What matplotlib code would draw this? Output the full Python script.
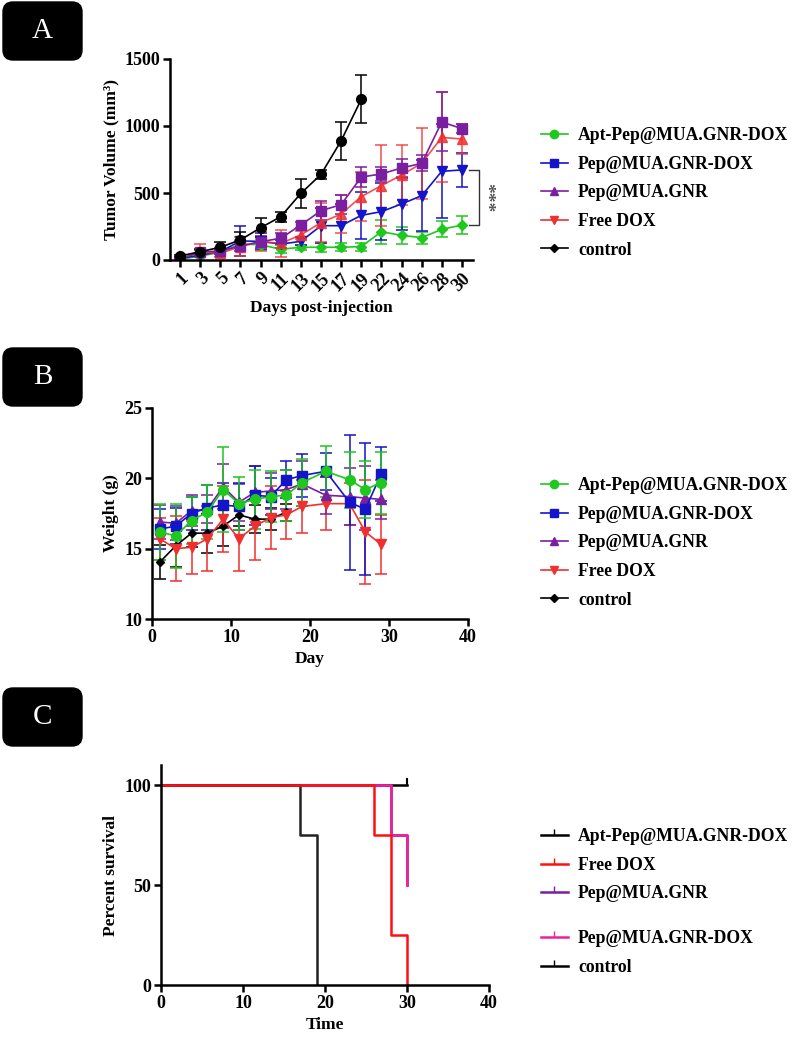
import numpy as np
import matplotlib
matplotlib.use("Agg")
import matplotlib.pyplot as plt
from matplotlib.lines import Line2D
from matplotlib.patches import FancyBboxPatch

plt.rcParams["font.family"] = "serif"
plt.rcParams["font.serif"] = ["Liberation Serif", "DejaVu Serif"]
plt.rcParams["font.weight"] = "bold"
plt.rcParams["axes.labelweight"] = "bold"

GREEN = "#1ec81e"
BLUE = "#1414c8"
PURPLE = "#7a1fa0"
RED = "#f03030"
PINK = "#f0209a"
BLACK = "#000000"

# ---- Panel A: tumor volume ----
days_a = ["1", "3", "5", "7", "9", "11", "13", "15", "17", "19", "22", "24", "26", "28", "30"]
vol_green = [5, 30, 57, 119, 114, 80, 95, 95, 95, 100, 211, 184, 167, 229, 261]
err_green = [5, 10, 15, 30, 40, 30, 20, 35, 30, 30, 90, 65, 45, 60, 65]
vol_blue = [10, 37, 62, 142, 139, 119, 139, 256, 256, 333, 361, 418, 480, 662, 672]
err_blue = [8, 15, 20, 115, 60, 30, 30, 130, 160, 175, 210, 195, 265, 350, 125]
vol_purple = [5, 60, 67, 105, 137, 162, 261, 368, 413, 619, 642, 687, 721, 1030, 980]
err_purple = [5, 15, 20, 40, 40, 40, 20, 72, 70, 73, 50, 64, 60, 220, 35]
vol_red = [12, 57, 50, 100, 137, 124, 187, 279, 343, 473, 555, 634, 721, 915, 903]
err_red = [8, 62, 25, 70, 70, 100, 30, 145, 140, 180, 300, 225, 265, 335, 112]
vol_black = [30, 62, 95, 150, 241, 323, 497, 639, 890, 1199]
err_black = [10, 20, 40, 60, 70, 37, 110, 33, 143, 178]

# ---- Panel B: body weight ----
days_b = [1, 3, 5, 7, 9, 11, 13, 15, 17, 19, 22, 25, 27, 29]
w_green = [16.2, 15.9, 17.0, 17.6, 19.2, 18.2, 18.5, 18.7, 18.8, 19.7, 20.5, 19.9, 19.2, 19.7]
e_green = [2.0, 2.3, 1.7, 1.9, 3.0, 1.9, 2.1, 1.8, 1.8, 1.7, 1.8, 2.0, 2.0, 2.2]
w_blue = [16.4, 16.6, 17.5, 17.9, 18.1, 18.0, 18.8, 18.7, 19.9, 20.2, 20.5, 18.3, 17.8, 20.3]
e_blue = [1.4, 1.3, 1.2, 1.6, 1.6, 1.7, 2.1, 1.3, 1.3, 1.5, 1.3, 4.8, 4.7, 1.9]
w_purple = [16.9, 16.8, 17.7, 17.8, 19.4, 18.3, 19.0, 19.1, 19.2, 19.6, 18.8, 18.7, 18.6, 18.5]
e_purple = [1.2, 1.2, 1.1, 1.0, 1.6, 1.3, 1.9, 1.3, 1.4, 1.6, 1.3, 2.0, 2.3, 1.4]
w_red = [15.7, 15.0, 15.1, 15.7, 17.1, 15.7, 16.6, 17.2, 17.4, 18.0, 18.2, 18.2, 16.2, 15.3]
e_red = [1.5, 2.3, 1.9, 2.3, 2.35, 2.3, 2.4, 2.25, 1.7, 1.9, 1.9, 1.5, 3.7, 2.1]
days_ctrl = [1, 3, 5, 7, 9, 11, 13, 15, 17]
w_black = [14.05, 15.2, 16.1, 16.1, 16.6, 17.4, 17.1, 17.1, 17.6]
e_black = [1.2, 1.5, 1.0, 1.4, 1.4, 0.8, 1.0, 0.8, 0.6]

# ---- Panel C: survival ----
t_apt, s_apt = [0, 30], [100, 100]
t_pep, s_pep = [0, 28, 30], [100, 75, 50]
t_pepdox, s_pepdox = [0, 28, 30], [100, 75, 50]
t_dox, s_dox = [0, 26, 28, 30], [100, 75, 25, 0]
t_ctrl, s_ctrl = [0, 17, 19], [100, 75, 0]

labels5 = ["Apt-Pep@MUA.GNR-DOX", "Pep@MUA.GNR-DOX", "Pep@MUA.GNR", "Free DOX", "control"]

W, H = 796, 1039
TICK = 13
LAB = 12.5
LEG = 12.7
fig = plt.figure(figsize=(W / 100, H / 100), dpi=100)


def px_axes(l, r, t, b):
    return fig.add_axes([l / W, 1 - b / H, (r - l) / W, (b - t) / H])


def style(ax):
    for s in ["top", "right"]:
        ax.spines[s].set_visible(False)
    for s in ["left", "bottom"]:
        ax.spines[s].set_linewidth(1.8)
    ax.tick_params(width=1.8, length=5, labelsize=TICK, pad=2)


def panel_box(letter, top_px):
    x0, w = 0.03, 0.79
    h = 0.58
    y0 = (H - top_px) / 100 - h
    pad = 0.1
    box = FancyBboxPatch((x0 + pad, y0 + pad), w - 2 * pad, h - 2 * pad,
                         boxstyle=f"round,pad={pad}", transform=fig.dpi_scale_trans,
                         facecolor="black", edgecolor="black")
    fig.patches.append(box)
    fig.text((x0 + w / 2) * 100 / W, (y0 + h / 2) * 100 / H, letter, color="white",
             fontsize=21, fontweight="normal", ha="center", va="center")


def legend(handles, labels, top_px):
    fig.legend(handles, labels, loc="upper left", bbox_to_anchor=(534 / W, 1 - top_px / H),
               frameon=False, prop={"size": LEG, "weight": "bold"}, handlelength=1.5,
               handletextpad=0.6, labelspacing=0.66, borderaxespad=0)


# Panel A
axA = px_axes(170, 473, 59, 260)
xa = np.arange(len(days_a))
eb = dict(capsize=4, elinewidth=1.1, capthick=1.1, lw=1.2, markersize=7)
axA.errorbar(xa, vol_green, yerr=err_green, color=GREEN, marker="D", markersize=5,
             capsize=4, elinewidth=1.1, capthick=1.1, lw=1.2)
axA.errorbar(xa, vol_blue, yerr=err_blue, color=BLUE, marker="v", **eb)
axA.errorbar(xa, vol_red, yerr=err_red, color=RED, marker="^", alpha=0.85, **eb)
axA.errorbar(xa, vol_purple, yerr=err_purple, color=PURPLE, marker="s", **eb)
axA.errorbar(xa[:len(vol_black)], vol_black, yerr=err_black, color=BLACK, marker="o", **eb)
axA.set_xlim(-0.5, 14.55)
axA.set_ylim(0, 1500)
axA.set_yticks([0, 500, 1000, 1500])
axA.set_xticks(xa)
axA.set_xticklabels(days_a, rotation=45, ha="right", rotation_mode="anchor")
axA.set_xlabel("Days post-injection", fontsize=LAB)
axA.set_ylabel("Tumor Volume (mm³)", fontsize=LAB)
style(axA)
axA.plot([14.36, 14.83, 14.83, 14.36], [vol_blue[-1], vol_blue[-1], vol_green[-1], vol_green[-1]],
         color="#333333", lw=1, clip_on=False)
axA.text(15.2, (vol_blue[-1] + vol_green[-1]) / 2, "***", rotation=270, color="#555555",
         fontsize=14, ha="center", va="center", clip_on=False)
hA = [Line2D([], [], color=GREEN, marker="o", markersize=6, lw=1.2),
      Line2D([], [], color=BLUE, marker="s", markersize=6, lw=1.2),
      Line2D([], [], color=PURPLE, marker="^", markersize=6, lw=1.2),
      Line2D([], [], color=RED, marker="v", markersize=6, lw=1.2),
      Line2D([], [], color=BLACK, marker="D", markersize=4, lw=1.2)]
legend(hA, labels5, 120)
panel_box("A", 2)

# Panel B
axB = px_axes(152, 468, 408, 619)
axB.errorbar(days_ctrl, w_black, yerr=e_black, color=BLACK, marker="D", markersize=4,
             capsize=4, elinewidth=1.1, capthick=1.1, lw=1.2)
axB.errorbar(days_b, w_red, yerr=e_red, color=RED, marker="v", **eb)
axB.errorbar(days_b, w_purple, yerr=e_purple, color=PURPLE, marker="^", **eb)
axB.errorbar(days_b, w_blue, yerr=e_blue, color=BLUE, marker="s", **eb)
axB.errorbar(days_b, w_green, yerr=e_green, color=GREEN, marker="o", **eb)
axB.set_xlim(0, 40)
axB.set_ylim(10, 25)
axB.set_xticks([0, 10, 20, 30, 40])
axB.set_yticks([10, 15, 20, 25])
axB.set_xlabel("Day", fontsize=LAB)
axB.set_ylabel("Weight (g)", fontsize=LAB)
style(axB)
hB = [Line2D([], [], color=GREEN, marker="o", markersize=6, lw=1.2),
      Line2D([], [], color=BLUE, marker="s", markersize=6, lw=1.2),
      Line2D([], [], color=PURPLE, marker="^", markersize=6, lw=1.2),
      Line2D([], [], color=RED, marker="v", markersize=6, lw=1.2),
      Line2D([], [], color=BLACK, marker="D", markersize=4, lw=1.2)]
legend(hB, labels5, 470)
panel_box("B", 348)

# Panel C
axC = px_axes(161, 489, 765, 985)
axC.step(t_apt, s_apt, where="post", color=BLACK, lw=1.8)
axC.plot([t_apt[-1]], [s_apt[-1]], marker=2, color=BLACK, markersize=5, mew=1.5)
axC.step(t_pep, s_pep, where="post", color=PURPLE, lw=1.8)
axC.step(t_pepdox, s_pepdox, where="post", color=PINK, lw=1.8)
axC.step(t_ctrl, s_ctrl, where="post", color="#222222", lw=1.8)
axC.step(t_dox, s_dox, where="post", color="#ff1010", lw=1.8)
axC.set_xlim(0, 40)
axC.set_ylim(0, 110)
axC.set_xticks([0, 10, 20, 30, 40])
axC.set_yticks([0, 50, 100])
axC.set_xlabel("Time", fontsize=LAB)
axC.set_ylabel("Percent survival", fontsize=LAB)
style(axC)
labelsC1 = ["Apt-Pep@MUA.GNR-DOX", "Free DOX", "Pep@MUA.GNR"]
labelsC2 = ["Pep@MUA.GNR-DOX", "control"]
hC1 = [Line2D([], [], color=c, marker=2, markersize=4, lw=1.8) for c in [BLACK, "#ff1010", PURPLE]]
hC2 = [Line2D([], [], color=c, marker=2, markersize=4, lw=1.8) for c in [PINK, BLACK]]
legend(hC1, labelsC1, 821)
legend(hC2, labelsC2, 923)
panel_box("C", 688)

fig.savefig("out.png", dpi=100)
